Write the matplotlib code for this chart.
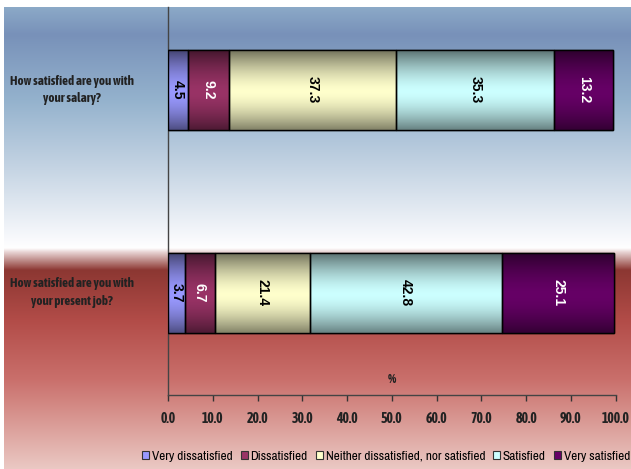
import numpy as np
import matplotlib
matplotlib.use("Agg")
import matplotlib.pyplot as plt
from matplotlib.patches import Patch

questions = ["How satisfied are you with\nyour present job?",
             "How satisfied are you with\nyour salary?"]
levels = ["Very dissatisfied", "Dissatisfied",
          "Neither dissatisfied, nor satisfied", "Satisfied", "Very satisfied"]
very_dissatisfied = [3.7, 4.5]
dissatisfied = [6.7, 9.2]
neither = [21.4, 37.3]
satisfied = [42.8, 35.3]
very_satisfied = [25.1, 13.2]
series = [very_dissatisfied, dissatisfied, neither, satisfied, very_satisfied]
x_ticks = [0, 10, 20, 30, 40, 50, 60, 70, 80, 90, 100]

colors = ["#9999FF", "#993366", "#FFFFCC", "#CCFFFF", "#660066"]
label_colors = ["black", "white", "black", "black", "white"]

bold_narrow = ["Asap Condensed", "DejaVu Sans"]
narrow = ["Archivo Narrow", "DejaVu Sans"]
plain = ["Liberation Sans", "DejaVu Sans"]

W, H = 631, 469
fig = plt.figure(figsize=(W / 100, H / 100), dpi=100)
fig.patch.set_facecolor("white")

# vertical background wash: blue band over red band
stops_y = [7, 35, 100, 170, 238, 248, 252, 270, 320, 380, 469]
stops_c = [(140, 170, 200), (120, 145, 185), (148, 178, 205), (198, 213, 228),
           (248, 249, 252), (255, 255, 255), (232, 212, 212), (140, 55, 50),
           (178, 76, 72), (202, 112, 108), (235, 202, 196)]
ys = np.arange(7, H)
grad = np.stack([np.interp(ys, stops_y, [c[k] for c in stops_c]) for k in range(3)],
                axis=-1) / 255.0
bg = fig.add_axes([4 / W, 0, 1 - 4 / W, (H - 7) / H], zorder=0)
bg.imshow(grad[:, None, :], aspect="auto", extent=(0, 1, 0, 1), interpolation="bilinear")
bg.set_axis_off()

ax = fig.add_axes([168 / W, (H - 395) / H, (615.7 - 168) / W, 388 / H], zorder=1)
ax.patch.set_alpha(0)

ypos = np.arange(len(questions))
bar_h = 0.395

# cylinder-like shading across each bar's height
t = np.linspace(0, 1, 64)
shade = 1 - 0.55 * (np.abs(t - 0.52) / 0.52) ** 1.6

left = np.zeros(len(questions))
for vals, col, lc in zip(series, colors, label_colors):
    bars = ax.barh(ypos, vals, left=left, height=bar_h, color=col,
                   edgecolor="black", linewidth=1.0, zorder=3)
    rgb = np.array(matplotlib.colors.to_rgb(col))
    img = (shade[:, None] * rgb[None, :])[:, None, :]
    for b, v in zip(bars, vals):
        x0, y0, w, h = b.get_x(), b.get_y(), b.get_width(), b.get_height()
        ax.imshow(img, aspect="auto", extent=(x0, x0 + w, y0, y0 + h),
                  interpolation="bilinear", zorder=3.5)
        ax.add_patch(plt.Rectangle((x0, y0), w, h, fill=False,
                                   edgecolor="black", linewidth=1.0, zorder=4))
        ax.text(x0 + w / 2, y0 + h / 2, f"{v:.1f}", rotation=-90,
                ha="center", va="center", color=lc, fontsize=10,
                fontweight="bold", family=plain, zorder=5)
    left = left + np.array(vals)

ax.set_xlim(0, 100)
ax.set_ylim(-0.506, 1.410)
ax.set_xticks(x_ticks)
ax.set_xticklabels([f"{v:.1f}" for v in x_ticks], fontsize=10,
                   fontweight="bold", family=bold_narrow, color="#222222")
ax.tick_params(axis="x", direction="out", length=4, width=1, color="#333333", pad=8)
ax.set_yticks(ypos)
ax.set_yticklabels([])
ax.tick_params(axis="y", length=0)
for s in ["top", "right"]:
    ax.spines[s].set_visible(False)
for s in ["left", "bottom"]:
    ax.spines[s].set_color("#444444")
    ax.spines[s].set_linewidth(1.0)

for yq, q in zip(ypos, questions):
    ax.text(-21.4, yq, q, ha="center", va="center", fontsize=9.4,
            fontweight="bold", family=bold_narrow, color="#222222",
            linespacing=1.45, clip_on=False)

ax.text(50, -0.43, "%", ha="center", va="center", fontsize=9.5,
        fontweight="bold", family=bold_narrow, color="#222222")

handles = [Patch(facecolor=c, edgecolor="#333333", linewidth=0.8) for c in colors]
fig.legend(handles, levels, loc="center", bbox_to_anchor=(386 / W, 1 - 456 / H),
           ncol=5, frameon=False, handlelength=0.55,
           handleheight=0.55, handletextpad=0.2, columnspacing=0.6,
           prop={"family": narrow, "size": 9.5})

fig.savefig("out.png", dpi=100, facecolor=fig.get_facecolor())
